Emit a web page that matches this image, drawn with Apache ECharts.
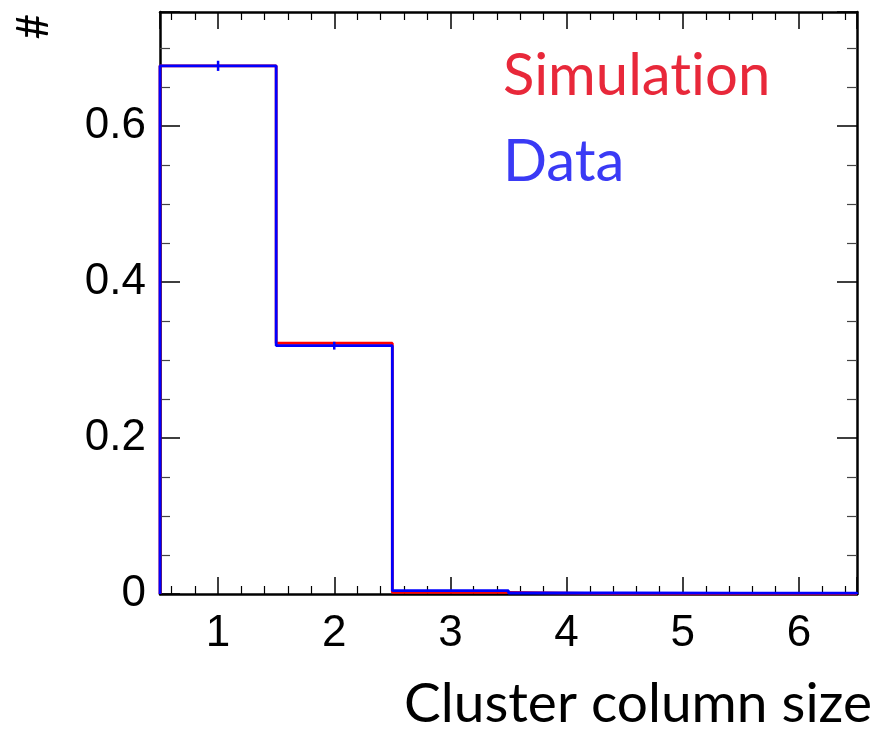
<!DOCTYPE html>
<html>
<head>
<meta charset="utf-8">
<script src="https://cdn.jsdelivr.net/npm/echarts@6/dist/echarts.min.js"></script>
<style>
html,body{margin:0;padding:0;background:#fff;}
#chart{width:880px;height:732px;}
</style>
</head>
<body>
<div id="chart"></div>
<script>
// Bin edges and centers (cluster column size)
var binEdges = [0.5, 1.5, 2.5, 3.5, 4.5, 5.5, 6.5];
var binCenters = [1, 2, 3, 4, 5, 6];
// Normalised histogram values
var simValues = [0.677, 0.3214, 0.002, 0.0002, 0.0001, 0.0001];
var dataValues = [0.677, 0.3183, 0.0042, 0.0013, 0.0012, 0.0012];
var dataErrors = [0.0065, 0.005, 0.0008, 0.0005, 0.0004, 0.0004];
var xTickLabels = ['1', '2', '3', '4', '5', '6'];
var yTickLabels = ['0', '0.2', '0.4', '0.6'];

function stepPoints(vals) {
  var pts = [[binEdges[0], 0]];
  for (var i = 0; i < vals.length; i++) {
    pts.push([binEdges[i], vals[i]]);
    pts.push([binEdges[i + 1], vals[i]]);
  }
  pts.push([binEdges[binEdges.length - 1], 0]);
  return pts;
}
var errData = binCenters.map(function (c, i) { return [c, dataValues[i], dataErrors[i]]; });

var chart = echarts.init(document.getElementById('chart'), null, {renderer: 'canvas'});
var labelFont = {fontFamily: 'Liberation Sans, Helvetica, Arial, sans-serif', fontSize: 44, color: '#000'};
var titleFont = 'Lato, "Noto Sans", sans-serif';

function xAx(pos, showLabel) {
  return {
    type: 'value', position: pos, min: 0.5, max: 6.5, splitNumber: 6,
    axisLine: {show: true, onZero: false, lineStyle: {color: '#000', width: 2.5}},
    axisTick: {show: true, inside: true, length: 17, lineStyle: {color: '#000', width: 1.5}},
    minorTick: {show: true, splitNumber: 5, length: 8, lineStyle: {color: '#000', width: 1.2}},
    splitLine: {show: false},
    axisLabel: Object.assign({show: showLabel, margin: 18, showMinLabel: false, showMaxLabel: false,
      formatter: function (v) { var i = binCenters.indexOf(v); return i >= 0 ? xTickLabels[i] : ''; }}, labelFont)
  };
}
function yAx(pos, showLabel) {
  return {
    type: 'value', position: pos, min: 0, max: 0.746, splitNumber: 4,
    axisLine: {show: true, onZero: false, lineStyle: {color: '#000', width: 2.5}},
    axisTick: {show: true, inside: true, length: 20, lineStyle: {color: '#000', width: 1.5}},
    minorTick: {show: true, splitNumber: 4, length: 10, lineStyle: {color: '#444', width: 1.2}},
    splitLine: {show: false},
    axisLabel: Object.assign({show: showLabel, margin: 14, showMaxLabel: false,
      formatter: function (v) { var i = Math.round(v / 0.2); return (Math.abs(v - i * 0.2) < 1e-9 && i < yTickLabels.length) ? yTickLabels[i] : ''; }}, labelFont)
  };
}

chart.setOption({
  animation: false,
  backgroundColor: '#fff',
  grid: {left: 160, top: 12, right: 23, bottom: 138, containLabel: false},
  xAxis: [xAx('bottom', true), xAx('top', false)],
  yAxis: [yAx('left', true), yAx('right', false)],
  series: [
    {type: 'line', data: stepPoints(simValues), showSymbol: false, symbol: 'none',
     lineStyle: {color: '#ff0000', width: 2.8}, z: 2},
    {type: 'line', data: stepPoints(dataValues), showSymbol: false, symbol: 'none',
     lineStyle: {color: '#0000ff', width: 2.8}, z: 3},
    {type: 'custom', data: errData, z: 4,
     renderItem: function (params, api) {
       var x = api.value(0), v = api.value(1), e = api.value(2);
       var p1 = api.coord([x, v - e]), p2 = api.coord([x, v + e]);
       return {type: 'line', shape: {x1: p1[0], y1: p1[1], x2: p2[0], y2: p2[1]},
               style: {stroke: '#0000ff', lineWidth: 2.5}};
     }}
  ],
  graphic: [
    {type: 'text', left: 503, top: 47, style: {text: '{a|Simulat}{a|ion}', rich: {a: {font: '400 58px ' + titleFont, fill: '#e8283a', color: '#e8283a'}}}},
    {type: 'text', left: 503, top: 133, style: {text: 'Data', font: '400 58px ' + titleFont, fill: '#3a3af5'}},
    {type: 'text', x: 8, y: 14, rotation: -Math.PI / 2, style: {text: '#', font: '400 44px ' + titleFont, fill: '#000', align: 'left', verticalAlign: 'bottom'}},
    {type: 'text', right: 8, top: 677, style: {text: 'Cluster column size', font: '400 55px ' + titleFont, fill: '#000'}}
  ]
});
</script>
</body>
</html>
